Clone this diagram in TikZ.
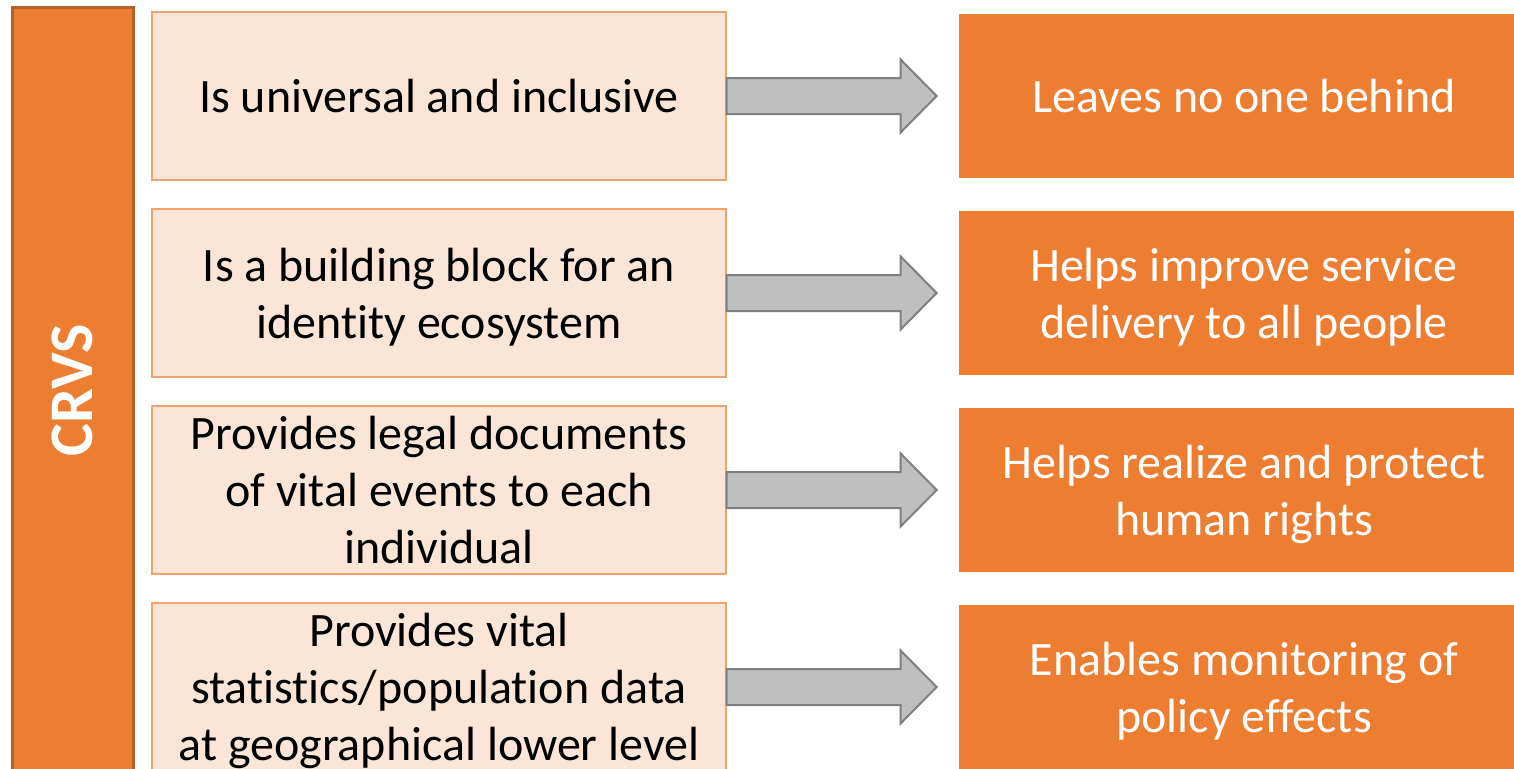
\documentclass[tikz,border=0pt]{standalone}
\usepackage{fontspec}
\setmainfont{Carlito}[Ligatures=NoCommon]
\usepackage{tikz}
\usetikzlibrary{positioning}
\definecolor{crvsorange}{HTML}{ED7D31}
\definecolor{crvsdark}{HTML}{B7612A}
\definecolor{peach}{HTML}{FBE5D6}
\definecolor{peachline}{HTML}{F2A26C}
\definecolor{arrowfill}{HTML}{BFBFBF}
\definecolor{arrowline}{HTML}{7F7F7F}

\begin{document}
\begin{tikzpicture}[x=1pt,y=-1pt,
    lbox/.style={draw=peachline,line width=1.2pt,fill=peach,minimum width=574pt,
      minimum height=168pt,inner sep=0pt,align=center,text depth=0pt,
      font=\fontsize{48}{57}\selectfont},
    rbox/.style={fill=crvsorange,text=white,minimum width=570pt,minimum height=164pt,
      inner sep=0pt,align=center,text depth=0pt,font=\fontsize{48}{57}\selectfont},
    arr/.style={draw=arrowline,fill=arrowfill,line width=2pt}]
    \useasboundingbox (0,0) rectangle (1514,768);
    \node[draw=crvsdark,line width=3pt,fill=crvsorange,rotate=90,minimum width=764pt,
      minimum height=121pt,inner sep=0pt,text=white,font=\fontsize{62}{70}\selectfont\bfseries]
      (crvs) at (72.5,390) {CRVS};
    \foreach \i/\y/\l/\r in {
        1/96/{Is universal and inclusive}/{Leaves no one behind},
        2/293/{Is a building block for an\\identity ecosystem}/{Helps improve service\\delivery to all people},
        3/490/{Provides legal documents\\of vital events to each\\individual}/{Helps realize and protect\\human rights},
        4/687/{Provides vital\\statistics/population data\\at geographical lower level}/{Enables monitoring of\\policy effects}} {
      \node[lbox] (l\i) at (439,\y) {\l};
      \node[rbox] (r\i) at (1244,\y) {\r};
      \draw[arr] (l\i.east) ++(0,-18) -- ++(174,0) -- ++(0,-18.5) -- ++(36,36.5)
        -- ++(-36,36.5) -- ++(0,-18.5) -- ++(-174,0) -- cycle;
    }
\end{tikzpicture}
\end{document}
